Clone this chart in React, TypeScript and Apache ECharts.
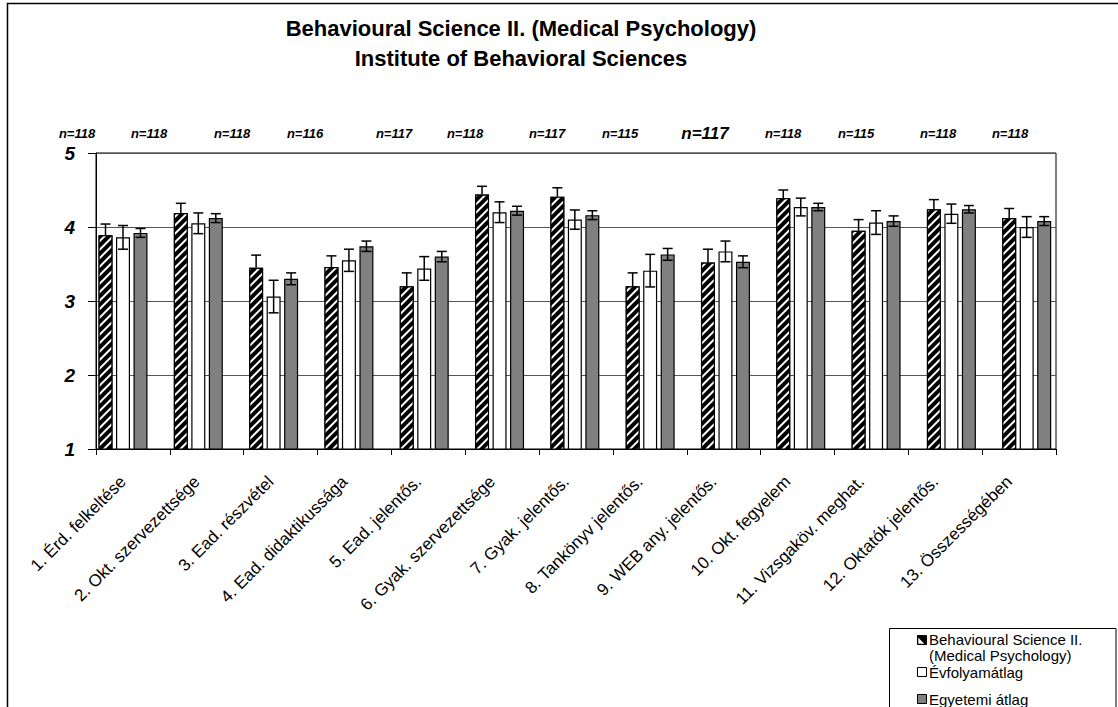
import React, { useEffect, useRef } from "react";
import * as echarts from "echarts";

const categories = [
  "1. Érd. felkeltése",
  "2. Okt. szervezettsége",
  "3. Ead. részvétel",
  "4. Ead. didaktikussága",
  "5. Ead. jelentős.",
  "6. Gyak. szervezettsége",
  "7. Gyak. jelentős.",
  "8. Tankönyv jelentős.",
  "9. WEB any. jelentős.",
  "10. Okt. fegyelem",
  "11. Vizsgaköv. meghat.",
  "12. Oktatók jelentős.",
  "13. Összességében",
];

const seriesNames = [
  "Behavioural Science II. (Medical Psychology)",
  "Évfolyamátlag",
  "Egyetemi átlag",
];

const courseValues = [3.89, 4.19, 3.45, 3.46, 3.2, 4.44, 4.41, 3.2, 3.52, 4.39, 3.95, 4.24, 4.12];
const courseErrors = [0.15, 0.13, 0.17, 0.15, 0.18, 0.11, 0.12, 0.18, 0.18, 0.11, 0.15, 0.13, 0.13];

const yearValues = [3.86, 4.05, 3.06, 3.55, 3.44, 4.2, 4.1, 3.41, 3.67, 4.27, 4.06, 4.18, 4.0];
const yearErrors = [0.16, 0.14, 0.22, 0.15, 0.16, 0.14, 0.13, 0.22, 0.14, 0.12, 0.16, 0.13, 0.14];

const uniValues = [3.92, 4.12, 3.3, 3.74, 3.6, 4.22, 4.16, 3.63, 3.53, 4.27, 4.08, 4.24, 4.08];
const uniErrors = [0.06, 0.06, 0.08, 0.07, 0.07, 0.06, 0.06, 0.08, 0.08, 0.05, 0.07, 0.05, 0.06];

const nValues = [118, 118, 118, 116, 117, 118, 117, 115, 117, 118, 115, 118, 118];

const yTicks = { min: 1, max: 5, interval: 1 };

// layout constants (annotation positions, not data)
const nLabelX = [77, 149, 232, 305, 394, 465, 547, 620, 705, 783, 856, 938, 1010];
const FONT = "'Liberation Sans', Arial, Helvetica, sans-serif";

export default function App() {
  const ref = useRef<HTMLDivElement>(null);

  useEffect(() => {
    if (!ref.current) return;
    const chart = echarts.init(ref.current, undefined, { renderer: "svg" });

    const BAR_W = 14;
    const OFFSET = 17.5;

    const makeErr = (vals: number[], errs: number[], offset: number, upperOnly: boolean) => ({
      type: "custom",
      xAxisIndex: 1,
      yAxisIndex: 1,
      z: 10,
      silent: true,
      encode: { x: 0, y: 1 },
      data: vals.map((v, i) => [i, v, errs[i]]),
      renderItem: (_p: any, api: any) => {
        const i = api.value(0);
        const v = api.value(1);
        const e = api.value(2);
        const top = api.coord([i, v + e]);
        const bot = api.coord([i, upperOnly ? v : v - e]);
        const x = top[0] + offset;
        const hw = 5;
        const st = { stroke: "#000", lineWidth: 1.5 };
        const children: any[] = [
          { type: "line", shape: { x1: x, y1: top[1], x2: x, y2: bot[1] }, style: st },
          { type: "line", shape: { x1: x - hw, y1: top[1], x2: x + hw, y2: top[1] }, style: st },
        ];
        if (!upperOnly) {
          children.push({ type: "line", shape: { x1: x - hw, y1: bot[1], x2: x + hw, y2: bot[1] }, style: st });
        }
        return { type: "group", children };
      },
    });

    const nTexts = nValues.map((n, i) => ({
      type: "text",
      x: nLabelX[i],
      y: 133,
      z: 50,
      style: {
        text: "n=" + n,
        align: "center",
        verticalAlign: "middle",
        fontFamily: FONT,
        fontWeight: "bold",
        fontStyle: "italic",
        fontSize: i === 8 ? 17 : 13,
        fill: "#000",
      },
    }));

    const legendText = (text: string, y: number) => ({
      type: "text",
      x: 929,
      y,
      z: 102,
      style: { text, fontFamily: FONT, fontSize: 15, fill: "#000", verticalAlign: "middle" },
    });

    chart.setOption({
      animation: false,
      backgroundColor: "#fff",
      title: {
        text: "Behavioural Science II. (Medical Psychology)\nInstitute of Behavioral Sciences",
        left: 521,
        top: 13,
        padding: 0,
        textAlign: "center",
        textStyle: {
          fontFamily: FONT,
          fontSize: 22,
          fontWeight: "bold",
          color: "#000",
          lineHeight: 30,
        },
      },
      grid: [
        { left: 96, right: 62, top: 153, bottom: 258, show: true, borderColor: "#000", borderWidth: 1, backgroundColor: "transparent" },
        { left: 85.35, width: 979, top: 153, bottom: 258, show: false },
      ],
      xAxis: [
        {
          type: "category",
          gridIndex: 0,
          data: categories,
          boundaryGap: true,
          axisLine: { lineStyle: { color: "#000", width: 1 } },
          axisTick: { show: true, length: 6, lineStyle: { color: "#000" } },
          axisLabel: {
            interval: 0,
            rotate: 45,
            margin: 20,
            padding: [0, 14, 0, 0],
            fontFamily: FONT,
            fontSize: 17,
            color: "#000",
          },
        },
        { type: "category", gridIndex: 1, data: categories, show: false },
      ],
      yAxis: [
        {
          type: "value",
          gridIndex: 0,
          min: yTicks.min,
          max: yTicks.max,
          interval: yTicks.interval,
          axisLine: { show: true, lineStyle: { color: "#000", width: 1 } },
          axisTick: { show: true, length: 8, lineStyle: { color: "#000" } },
          splitLine: { show: true, lineStyle: { color: "#555", width: 1 } },
          axisLabel: {
            margin: 21,
            fontFamily: FONT,
            fontSize: 19,
            fontWeight: "bold",
            fontStyle: "italic",
            color: "#000",
          },
        },
        { type: "value", gridIndex: 1, min: yTicks.min, max: yTicks.max, show: false, splitLine: { show: false } },
      ],
      series: [
        {
          type: "bar",
          name: seriesNames[0],
          xAxisIndex: 1,
          yAxisIndex: 1,
          data: courseValues,
          barWidth: BAR_W,
          barGap: "25%",
          itemStyle: {
            color: "#000",
            borderColor: "#000",
            borderWidth: 1.2,
            decal: {
              symbol: "rect",
              symbolSize: 1,
              color: "#fff",
              dashArrayX: [1, 0],
              dashArrayY: [2, 4],
              rotation: -Math.PI / 4,
            },
          },
        },
        {
          type: "bar",
          name: seriesNames[1],
          xAxisIndex: 1,
          yAxisIndex: 1,
          data: yearValues,
          barWidth: BAR_W,
          barGap: "25%",
          itemStyle: { color: "#fff", borderColor: "#000", borderWidth: 1.2 },
        },
        {
          type: "bar",
          name: seriesNames[2],
          xAxisIndex: 1,
          yAxisIndex: 1,
          data: uniValues,
          barWidth: BAR_W,
          barGap: "25%",
          itemStyle: { color: "#808080", borderColor: "#000", borderWidth: 1.2 },
        },
        makeErr(courseValues, courseErrors, -OFFSET, true),
        makeErr(yearValues, yearErrors, 0, false),
        makeErr(uniValues, uniErrors, OFFSET, false),
      ],
      graphic: [
        {
          type: "rect",
          z: 100,
          shape: { x: 7.5, y: 3.5, width: 1125, height: 720 },
          style: { fill: "none", stroke: "#000", lineWidth: 1.5 },
        },
        ...nTexts,
        {
          type: "rect",
          z: 100,
          shape: { x: 889.5, y: 628.5, width: 226.5, height: 100 },
          style: { fill: "#fff", stroke: "#000", lineWidth: 1 },
        },
        { type: "rect", z: 102, shape: { x: 917.5, y: 635.5, width: 9, height: 9 }, style: { fill: "#000", stroke: "#000", lineWidth: 1 } },
        { type: "polygon", z: 103, shape: { points: [[918.3, 643.7], [918.3, 637.7], [924.3, 643.7]] }, style: { fill: "#fff" } },
        { type: "rect", z: 102, shape: { x: 917.5, y: 667.5, width: 9, height: 9 }, style: { fill: "#fff", stroke: "#000", lineWidth: 1 } },
        { type: "rect", z: 102, shape: { x: 917.5, y: 694.5, width: 9, height: 9 }, style: { fill: "#808080", stroke: "#000", lineWidth: 1 } },
        legendText("Behavioural Science II.", 639),
        legendText("(Medical Psychology)", 655),
        legendText(seriesNames[1], 672),
        legendText(seriesNames[2], 699),
      ],
    });

    return () => chart.dispose();
  }, []);

  return (
    <div
      ref={ref}
      style={{ position: "fixed", left: 0, top: 0, width: 1118, height: 707, background: "#fff" }}
    />
  );
}
